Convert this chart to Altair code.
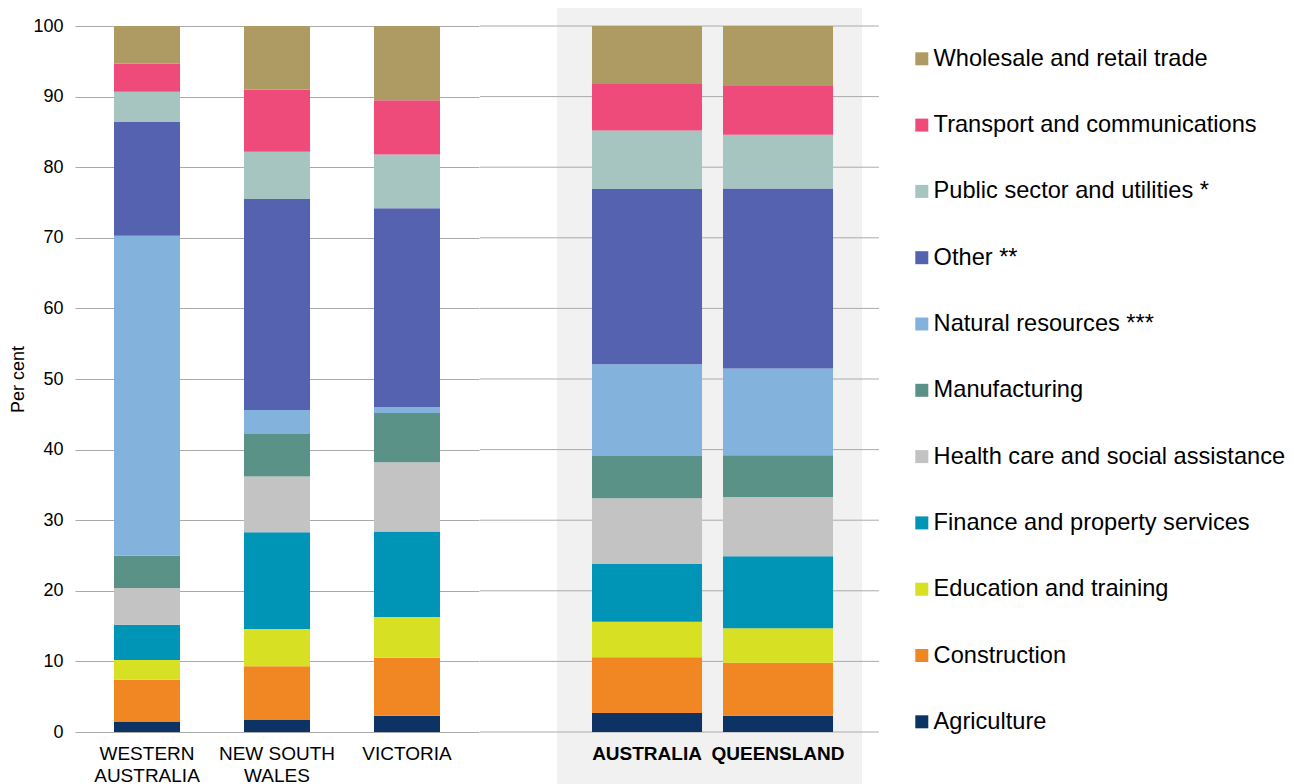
import altair as alt
import pandas as pd

# Industries, bottom of stack to top
industries = [
    "Agriculture",
    "Construction",
    "Education and training",
    "Finance and property services",
    "Health care and social assistance",
    "Manufacturing",
    "Natural resources ***",
    "Other **",
    "Public sector and utilities *",
    "Transport and communications",
    "Wholesale and retail trade",
]
colors = [
    "#0C3363", "#F08723", "#D7E023", "#0094B6", "#C4C3C4", "#5A9287",
    "#83B3DC", "#5462AF", "#A6C4C0", "#EE4B7B", "#AE9B63",
]

states = ["WESTERN AUSTRALIA", "NEW SOUTH WALES", "VICTORIA"]
state_lines = [["WESTERN", "AUSTRALIA"], ["NEW SOUTH", "WALES"], ["VICTORIA"]]
compare = ["AUSTRALIA", "QUEENSLAND"]

# Per cent shares, same order as industries
western_australia = [1.5, 5.9, 2.8, 5.0, 5.2, 4.6, 45.3, 16.1, 4.3, 4.0, 5.3]
new_south_wales = [1.7, 7.6, 5.3, 13.7, 7.9, 6.0, 3.4, 29.9, 6.7, 8.8, 9.0]
victoria = [2.3, 8.2, 5.8, 12.1, 9.8, 7.0, 0.8, 28.2, 7.6, 7.7, 10.5]
australia = [2.7, 7.9, 5.0, 8.2, 9.3, 6.0, 13.0, 24.8, 8.3, 6.6, 8.2]
queensland = [2.3, 7.5, 4.9, 10.2, 8.4, 5.9, 12.3, 25.5, 7.6, 6.9, 8.5]

y_ticks = [0, 10, 20, 30, 40, 50, 60, 70, 80, 90, 100]

series = {
    "WESTERN AUSTRALIA": western_australia,
    "NEW SOUTH WALES": new_south_wales,
    "VICTORIA": victoria,
    "AUSTRALIA": australia,
    "QUEENSLAND": queensland,
}

rows = []
for region, vals in series.items():
    for i, (ind, v) in enumerate(zip(industries, vals)):
        rows.append({"region": region, "industry": ind, "value": v, "order": i})
df = pd.DataFrame(rows)
df_left = df[df["region"].isin(states)]
df_right = df[df["region"].isin(compare)]

FONT = "Liberation Sans, Arial, sans-serif"

color = alt.Color(
    "industry:N",
    scale=alt.Scale(domain=industries[::-1], range=colors[::-1]),
    legend=alt.Legend(
        title=None,
        orient="none",
        legendX=835,
        legendY=21,
        symbolType="square",
        symbolSize=169,
        symbolStrokeWidth=0,
        symbolOpacity=1,
        labelFontSize=23.6,
        labelColor="#000000",
        labelOffset=0,
        labelLimit=500,
        rowPadding=41.3,
        padding=0,
    ),
)
order = alt.Order("order:Q", sort="ascending")
yscale = alt.Scale(domain=[0, 100], nice=False)

# multi-line label expression
expr = "datum.label"
for name, lines in zip(states, state_lines):
    arr = "[" + ",".join("'" + l + "'" for l in lines) + "]"
    expr = f"datum.label == '{name}' ? {arr} : " + expr

left = alt.Chart(df_left).mark_bar().encode(
    x=alt.X(
        "region:N",
        sort=states,
        scale=alt.Scale(paddingInner=0.492, paddingOuter=0.3),
        axis=alt.Axis(
            title=None, labelAngle=0, labelExpr=expr, labelFontSize=19,
            labelColor="#000000", labelPadding=12, labelLineHeight=22,
            domain=False, ticks=False,
        ),
    ),
    y=alt.Y(
        "value:Q",
        stack="zero",
        scale=yscale,
        axis=alt.Axis(
            values=y_ticks, title="Per cent", titleFontSize=18,
            titleFontWeight="normal", titleColor="#000000", titlePadding=5,
            labelFontSize=18, labelColor="#000000", labelPadding=12,
            domain=False, ticks=False, grid=True, gridColor="#aaaaaa",
            gridWidth=1,
        ),
    ),
    color=color,
    order=order,
).properties(width=404, height=706)

band = alt.Chart(pd.DataFrame({"band": [0]})).mark_rect(color="#F1F1F1").encode(
    x=alt.value(77), x2=alt.value(382), y=alt.value(-20), y2=alt.value(760)
)
rules = alt.Chart(pd.DataFrame({"tick": y_ticks})).mark_rule(
    color="#aaaaaa", strokeWidth=1
).encode(y=alt.Y("tick:Q", scale=yscale, axis=None))

right_bars = alt.Chart(df_right).mark_bar().encode(
    x=alt.X(
        "region:N",
        sort=compare,
        scale=alt.Scale(paddingInner=0.16, paddingOuter=0.603, align=0.709),
        axis=alt.Axis(
            title=None, labelAngle=0, labelFontSize=19, labelFontWeight="bold",
            labelColor="#000000", labelPadding=12, domain=False, ticks=False,
            zindex=1,
        ),
    ),
    y=alt.Y("value:Q", stack="zero", scale=yscale, axis=None),
    color=color,
    order=order,
)

right = alt.layer(band, rules, right_bars).properties(width=399, height=706)

chart = (
    alt.hconcat(left, right, spacing=0)
    .properties(
        autosize=alt.AutoSizeParams(type="none"),
        padding={"left": 67, "top": 18, "right": 1211, "bottom": 750},
    )
    .configure(font=FONT)
    .configure_view(stroke=None)
)

chart.save("out.html", embed_options={"renderer": "svg", "actions": False})
